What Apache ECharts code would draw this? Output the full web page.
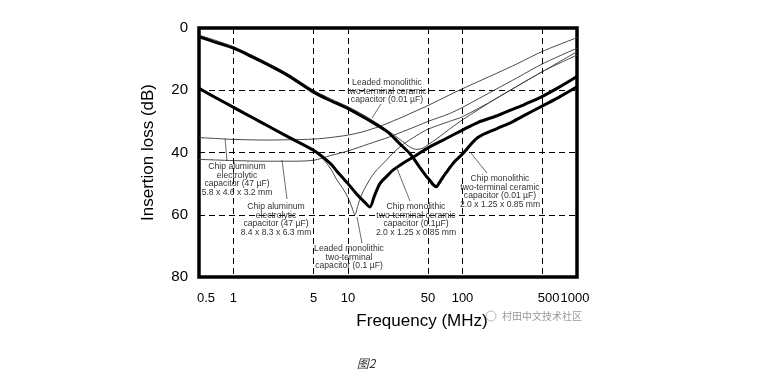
<!DOCTYPE html>
<html><head><meta charset="utf-8">
<script src="https://cdn.jsdelivr.net/npm/echarts@6/dist/echarts.min.js"></script>
<style>html,body{margin:0;padding:0;background:#fff}#c{width:775px;height:386px}</style>
</head><body><div id="c"></div>
<script>
// Tick / grid values
const xTickValues = [0.5, 1, 5, 10, 50, 100, 500, 1000];
const xGridValues = [1, 5, 10, 50, 100, 500];

// Chip monolithic two-terminal ceramic capacitor (0.01 uF) - thick
const chip001Freq = [0.5,0.7,1,1.5,2,3,5,7,10,15,22,28,35,42,48,52,56,59,62,66,72,85,100,136,200,267,350,500,700,1000];
const chip001Loss = [2.8,4.6,6.5,9.5,11.8,15.3,20.6,23.3,25.9,29.5,33.3,37,40.5,44.6,47.5,49,50.5,51,50,48.5,46.5,43,40.5,35.2,32.3,30.3,28,25,22.2,18.9];

// Chip monolithic two-terminal ceramic capacitor (0.1 uF) - thick
const chip01Freq = [0.5,0.7,1,1.5,2,3,5,7,8,10,12,14,15.5,17,19,22,25,30,37,50,72,100,137,200,266,350,490,700,1000];
const chip01Loss = [19.4,22.4,25.5,29,31.5,35,39.3,43.5,46,50,53.5,56,57.5,54,50,47.5,45.5,43.5,41.5,38.5,35.5,32.8,30.3,28.2,26.3,24.5,22.1,19,15.6];

// Leaded monolithic two-terminal capacitor (0.1 uF) - thin
const leaded01Freq = [0.5,0.7,1,1.5,2,3,5,6,7,8,9,10,10.8,11.5,12.2,13,14.5,17,21.7,25,30,40,50,77,100,200,500,1000];
const leaded01Loss = [19.1,22.1,25.2,28.7,31.2,34.7,39.5,42,45,48.8,51.5,54.5,57.5,60,57,54,50.5,46.5,42.4,40,37.5,34.5,32.5,30,28.5,22.5,14,8.7];

// Leaded monolithic two-terminal ceramic capacitor (0.01 uF) - thin
const leaded001Freq = [0.5,0.7,1,1.5,2,3,5,7,10,15,20,25,30,35,40,45,50,60,77,100,200,500,1000];
const leaded001Loss = [2.3,4,6,9,11.3,14.8,20,22.7,25.3,28.8,31.8,34.3,36.5,38.3,39,38.6,37.5,35.5,32.5,29.5,22.5,14,7.6];

// Chip aluminum electrolytic capacitor (47 uF) 5.8x4.6x3.2 - thin
const alSmallFreq = [0.5,0.7,1,2,3,5,7,10,13,16,20,25,30,40,50,77,100,200,300,500,1000];
const alSmallLoss = [35.2,35.5,35.8,36,35.9,35.7,35.2,34.4,33.5,32.5,31.3,29.8,28.6,26.5,24.9,21.5,19.5,14.5,11.5,7.5,3.1];

// Chip aluminum electrolytic capacitor (47 uF) 8.4x8.3x6.3 - thin
const alLargeFreq = [0.5,0.7,1,2,3,5,7,10,15,23,30,40,50,77,100,200,300,500,1000];
const alLargeLoss = [42.2,42.4,42.6,42.8,42.8,42.5,41,39.5,37.3,35,33.3,31.5,30,27.5,25.5,19.5,16,11.5,6.5];

const toXY = (fs, ls) => fs.map((f, i) => [Math.log10(f), ls[i]]);

const FONT = 'Liberation Sans, Arial, sans-serif';
const chart = echarts.init(document.getElementById('c'), null, {renderer: 'canvas'});

const thin = (name, fs, ls) => ({
  name, type: 'line', data: toXY(fs, ls), showSymbol: false, smooth: 0.3,
  lineStyle: {color: '#4a4a4a', width: 1}, z: 3
});
const thick = (name, fs, ls) => ({
  name, type: 'line', data: toXY(fs, ls), showSymbol: false, smooth: 0.3,
  lineStyle: {color: '#000', width: 3}, z: 4
});

const gridSeries = thin('Chip aluminum 5.8', alSmallFreq, alSmallLoss);
gridSeries.markLine = {
  silent: true, symbol: 'none', animation: false,
  label: {show: false},
  lineStyle: {color: '#000', type: [6, 4], width: 1},
  data: xGridValues.map(v => ({xAxis: Math.log10(v)}))
};

const annText = (x, y, text) => ({
  type: 'text', x, y, z: 10,
  style: {text, fontSize: 8.6, lineHeight: 8.8, fontFamily: FONT, fill: '#333',
          textAlign: 'center', textVerticalAlign: 'top'}
});
const lead = (x1, y1, x2, y2) => ({
  type: 'line', z: 10, shape: {x1, y1, x2, y2}, style: {stroke: '#444', lineWidth: 0.8}
});

chart.setOption({
  animation: false,
  backgroundColor: '#fff',
  textStyle: {fontFamily: FONT},
  grid: {left: 199, right: 198, top: 28, bottom: 109, show: true,
         borderColor: '#000', borderWidth: 3.5, backgroundColor: 'transparent'},
  xAxis: {
    type: 'value', min: Math.log10(0.5), max: 3,
    axisLine: {show: false}, axisTick: {show: false}, splitLine: {show: false},
    axisLabel: {
      customValues: xTickValues.map(v => Math.log10(v)),
      fontSize: 13, margin: 15, color: '#000',
      formatter: (v) => {
        const t = xTickValues.find(t => Math.abs(Math.log10(t) - v) < 1e-6);
        if (t === 0.5) return '{a|0.5}';
        if (t === 500) return '{b|500}';
        if (t === 1000) return '{c|1000}';
        return String(t);
      },
      rich: {
        a: {fontSize: 13, color: '#000', padding: [0, 0, 0, 14]},
        b: {fontSize: 13, color: '#000', padding: [0, 0, 0, 12]},
        c: {fontSize: 13, color: '#000', padding: [0, 4, 0, 0]}
      }
    },
    name: 'Frequency (MHz)', nameLocation: 'middle', nameGap: 36,
    nameTextStyle: {fontSize: 17, color: '#000', padding: [0, 0, 0, 68]}
  },
  yAxis: {
    type: 'value', inverse: true, min: 0, max: 80, interval: 20,
    axisLine: {show: false}, axisTick: {show: false},
    splitLine: {show: true, lineStyle: {color: '#000', type: [6, 4], width: 1}},
    axisLabel: {fontSize: 15, margin: 11, color: '#000'},
    name: 'Insertion loss (dB)', nameLocation: 'middle', nameGap: 42,
    nameTextStyle: {fontSize: 17, color: '#000'}
  },
  series: [
    gridSeries,
    thin('Chip aluminum 8.4', alLargeFreq, alLargeLoss),
    thin('Leaded 0.01', leaded001Freq, leaded001Loss),
    thin('Leaded 0.1', leaded01Freq, leaded01Loss),
    thick('Chip 0.1', chip01Freq, chip01Loss),
    thick('Chip 0.01', chip001Freq, chip001Loss)
  ],
  graphic: [
    annText(387, 78, 'Leaded monolithic\ntwo-terminal ceramic\ncapacitor (0.01 µF)'),
    lead(381, 104, 372, 118),
    annText(237, 162, 'Chip aluminum\nelectrolytic\ncapacitor (47 µF)\n5.8 x 4.6 x 3.2 mm'),
    lead(225, 138, 227, 161),
    annText(276, 202, 'Chip aluminum\nelectrolytic\ncapacitor (47 µF)\n8.4 x 8.3 x 6.3 mm'),
    lead(282, 160, 287, 199),
    annText(349, 244, 'Leaded monolithic\ntwo-terminal\ncapacitor (0.1 µF)'),
    lead(357, 217, 362, 243),
    annText(416, 202, 'Chip monolithic\ntwo-terminal ceramic\ncapacitor (0.1µF)\n2.0 x 1.25 x 0.85 mm'),
    lead(396, 166, 410, 201),
    annText(500, 174, 'Chip monolithic\ntwo-terminal ceramic\ncapacitor (0.01 µF)\n2.0 x 1.25 x 0.85 mm'),
    lead(470, 152, 487, 173),
    {type: 'circle', shape: {cx: 491, cy: 316, r: 5}, style: {stroke: '#bbb', fill: 'none', lineWidth: 1}},
    {type: 'text', x: 502, y: 316, style: {text: '村田中文技术社区', fontSize: 10, fontFamily: 'Noto Sans CJK SC', fill: '#999', textVerticalAlign: 'middle'}},
    {type: 'text', x: 366, y: 363, style: {text: '图2', fontSize: 12, fontStyle: 'italic', fontFamily: 'Noto Sans CJK SC', fill: '#333', textAlign: 'center', textVerticalAlign: 'middle'}}
  ]
});
</script></body></html>
